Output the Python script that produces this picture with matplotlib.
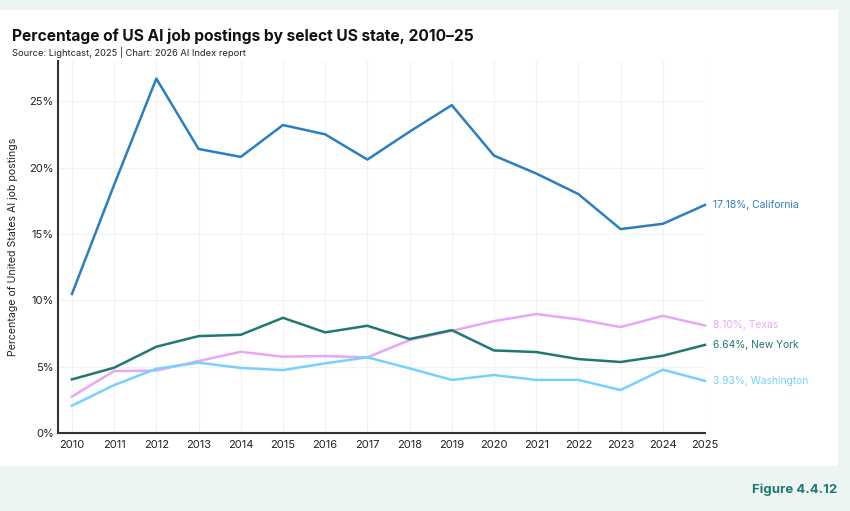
import matplotlib.pyplot as plt
from matplotlib.patches import Rectangle
from matplotlib.ticker import FuncFormatter

plt.rcParams['font.family'] = ['Inter', 'DejaVu Sans']

years = list(range(2010, 2026))

california = [10.47, 18.7, 26.7, 21.4, 20.8, 23.2, 22.5, 20.6, 22.7, 24.7,
              20.9, 19.55, 18.0, 15.36, 15.76, 17.18]
texas = [2.74, 4.67, 4.7, 5.42, 6.12, 5.75, 5.8, 5.7, 7.0, 7.7,
         8.43, 8.96, 8.56, 7.98, 8.83, 8.10]
new_york = [4.04, 4.92, 6.5, 7.3, 7.4, 8.68, 7.58, 8.08, 7.08, 7.75,
            6.22, 6.1, 5.57, 5.35, 5.82, 6.64]
washington = [2.06, 3.61, 4.84, 5.3, 4.9, 4.74, 5.25, 5.7, 4.87, 4.0,
              4.37, 4.0, 4.0, 3.24, 4.77, 3.93]

series = [
    ('California', california, '#2a7fc0'),
    ('Texas', texas, '#e8a6f7'),
    ('New York', new_york, '#1f7872'),
    ('Washington', washington, '#76d2fa'),
]

fig = plt.figure(figsize=(8.5, 5.11), dpi=100)
fig.patch.set_facecolor('#ecf5f2')

# white card behind the chart
card = Rectangle((0, 1 - 466 / 511), 838 / 850, (466 - 10) / 511,
                 transform=fig.transFigure, facecolor='white', edgecolor='none', zorder=-5)
fig.patches.append(card)

ax = fig.add_axes([58 / 850, 0.1526, (705 - 58) / 850, 0.880 - 0.1526])
ax.set_facecolor('white')

for name, vals, col in series:
    ax.plot(years, vals, color=col, lw=1.8, clip_on=False, zorder=3)
    ax.text(2025.18, vals[-1], f'{vals[-1]:.2f}%, {name}', color=col,
            fontsize=7.4, va='center', ha='left')

ax.set_xlim(2009.67, 2025)
ax.set_ylim(0, 28)
ax.set_xticks(years)
ax.set_yticks([0, 5, 10, 15, 20, 25])
ax.yaxis.set_major_formatter(FuncFormatter(lambda v, p: f'{v:.0f}%'))
ax.tick_params(length=0, labelsize=8, colors='#222222', pad=3)
ax.tick_params(axis='x', pad=5)
ax.grid(True, color='#f2f2f2', lw=0.8)
ax.set_axisbelow(True)
for s in ['top', 'right']:
    ax.spines[s].set_visible(False)
for s in ['left', 'bottom']:
    ax.spines[s].set_color('#333333')
    ax.spines[s].set_linewidth(1.5)

ax.set_ylabel('Percentage of United States AI job postings', fontsize=7.6,
              color='#222222')
ax.yaxis.set_label_coords(-0.062, 0.5)

fig.text(12 / 850, 1 - 36 / 511, 'Percentage of US AI job postings by select US state, 2010\u201325',
         fontsize=11.2, fontweight='bold', color='#111111', va='center')
fig.text(12 / 850, 1 - 53 / 511, 'Source: Lightcast, 2025 | Chart: 2026 AI Index report',
         fontsize=6.7, color='#222222', va='center')
fig.text(837 / 850, 1 - 490 / 511, 'Figure 4.4.12', fontsize=9.5, fontweight='bold',
         color='#1f7872', ha='right', va='center')

fig.savefig('out.png', dpi=100, facecolor=fig.get_facecolor())
